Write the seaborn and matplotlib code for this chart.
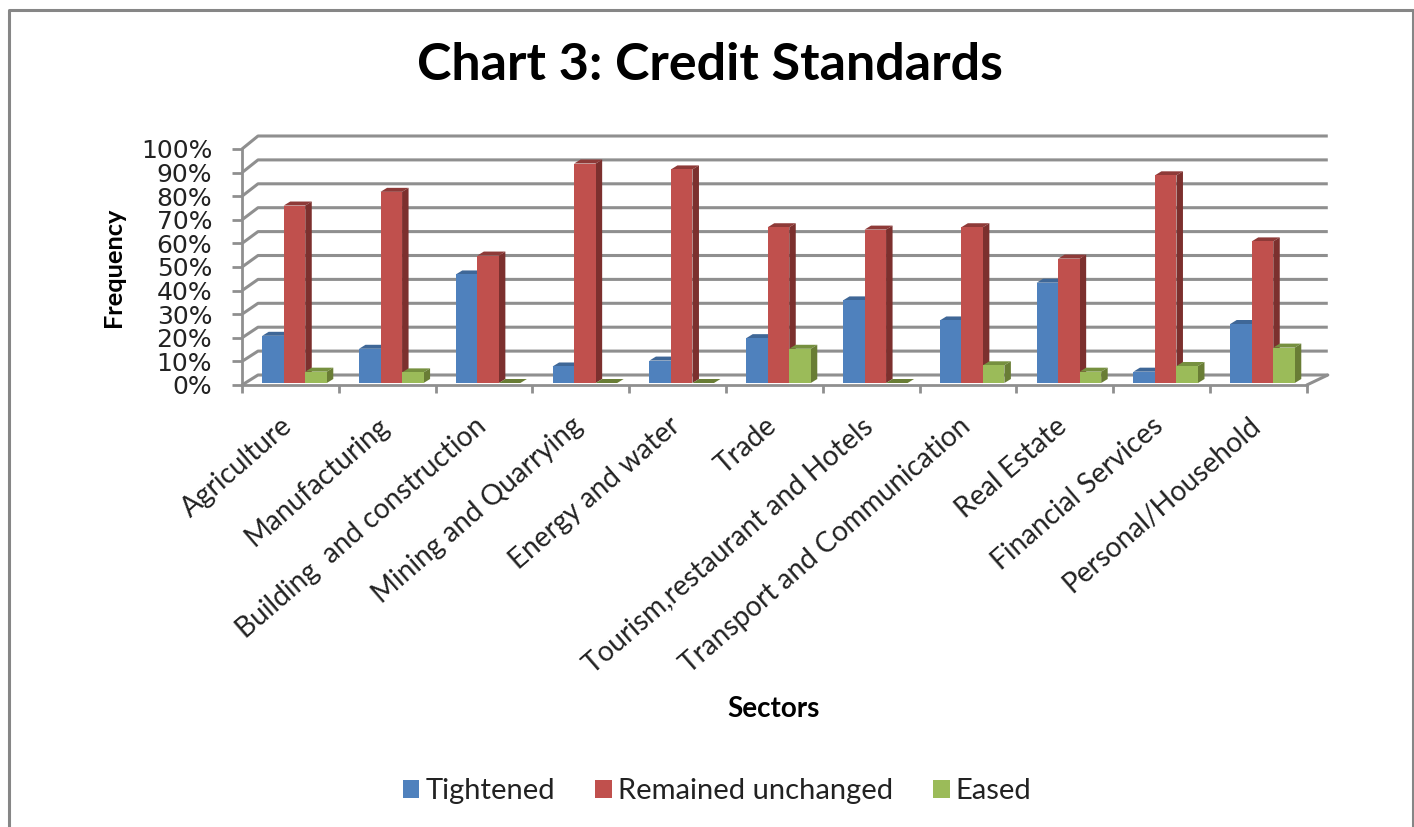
# Chart 3: credit standards by sector, drawn as a fake 3D clustered bar chart

import matplotlib.pyplot as plt
from matplotlib.patches import Polygon
from matplotlib.lines import Line2D
import pandas as pd
import seaborn as sns

sectors = ['Agriculture', 'Manufacturing', 'Building  and construction', 'Mining and Quarrying',
           'Energy and water', 'Trade', 'Tourism,restaurant and Hotels', 'Transport and Communication',
           'Real Estate', 'Financial Services', 'Personal/Household']
tightened = [20, 14.5, 46, 7, 9.5, 19, 35, 26.5, 42.5, 4.8, 25]
unchanged = [75.2, 81, 54, 93, 90.5, 66, 65, 66, 52.7, 88, 60]
eased = [4.8, 4.5, 0, 0, 0, 14.5, 0, 7.5, 4.8, 7.2, 15]
series_names = ['Tightened', 'Remained unchanged', 'Eased']
y_ticks = [0, 10, 20, 30, 40, 50, 60, 70, 80, 90, 100]

front_colors = ['#4f81bd', '#c0504d', '#9bbb59']
side_colors = ['#3b618f', '#7c302e', '#697d35']
top_colors = ['#3f6797', '#8e3a38', '#76903f']
grid_color = '#8f8f8f'

W, H = 1414, 827

def box(left, top, right, bottom):
    # pixel box (from top-left of the image) to figure fractions
    return [left / W, 1 - bottom / H, (right - left) / W, (bottom - top) / H]

data = pd.DataFrame({
    'Sector': sectors * 3,
    'Series': [n for n in series_names for _ in sectors],
    'Value': tightened + unchanged + eased,
})

sns.set_theme(style='white')
plt.rcParams['font.family'] = ['DejaVu Sans']

fig = plt.figure(figsize=(W / 100, H / 100), dpi=100, facecolor='white')

# image border (open at the bottom)
fig.add_artist(Line2D([8.5 / W, 8.5 / W, 1412.5 / W, 1412.5 / W], [0, 1 - 9.5 / H, 1 - 9.5 / H, 0],
                      color='#868686', lw=2.2))

# the frame with walls and ticks
ax_frame = fig.add_axes(box(242, 149, 1306.8, 385))
ax_frame.set_xlim(0, 11)
ax_frame.set_ylim(0, 100)
for side in ['top', 'right']:
    ax_frame.spines[side].set_visible(False)
for side in ['left', 'bottom']:
    ax_frame.spines[side].set_color(grid_color)
    ax_frame.spines[side].set_linewidth(2)

cat_px = 1064.8 / 11
for v in y_ticks:
    back_y = 100 * (385 - (375 - 2.39 * v)) / 236
    ax_frame.plot([0, 16 / cat_px, 11 + 21 / cat_px], [v, back_y, back_y], color=grid_color, lw=2.2,
                  clip_on=False, zorder=1, solid_capstyle='butt')
# right edge of the floor
ax_frame.plot([11, 11 + 21 / cat_px], [0, 100 * 10 / 236], color=grid_color, lw=2.2, clip_on=False, zorder=1)

ax_frame.set_yticks(y_ticks)
ax_frame.set_yticklabels([f'{v}%' for v in y_ticks], fontsize=18, color='#222222')
ax_frame.tick_params(axis='y', length=7.5, width=2, color=grid_color, pad=14, left=True)
ax_frame.set_xticks(range(12))
ax_frame.set_xticklabels([])
ax_frame.tick_params(axis='x', which='major', length=6, width=2, color=grid_color, bottom=True)
ax_frame.set_xticks([i + 0.5 - 10 / cat_px for i in range(11)], minor=True)
ax_frame.set_xticklabels(sectors, minor=True, rotation=41, ha='right', rotation_mode='anchor',
                         fontsize=20.2, family='Lato', color='#222222')
ax_frame.tick_params(axis='x', which='minor', length=0, pad=20)

ax_frame.set_ylabel('Frequency', fontsize=18.3, fontweight='bold', family='Lato', color='black')
ax_frame.yaxis.set_label_coords((125 - 242) / 1064.8, (385 - 267) / 236)
ax_frame.set_xlabel('Sectors', fontsize=20, fontweight='bold', family='Lato', color='black')
ax_frame.xaxis.set_label_coords((773 - 242) / 1064.8, (385 - 696) / 236)

# the bars
ax_bars = fig.add_axes(box(246.1, 147, 1310.9, 383))
ax_bars.patch.set_alpha(0)
sns.barplot(data=data, x='Sector', y='Value', hue='Series', palette=front_colors, hue_order=series_names,
            width=0.667, saturation=1, linewidth=0, edgecolor='none', ax=ax_bars, legend=True)
ax_bars.set_xlim(-0.5, 10.5)
ax_bars.set_ylim(0, 100)

depth_x = 6.5 / cat_px
depth_y = 4 / 2.36
for k, bars in enumerate(ax_bars.containers):
    for bar in bars:
        x0, x1 = bar.get_x(), bar.get_x() + bar.get_width()
        h = bar.get_height()
        z = 3 + k
        bar.set_zorder(z + 0.5)
        ax_bars.add_patch(Polygon([(x0, h), (x0 + depth_x, h + depth_y), (x1 + depth_x, h + depth_y), (x1, h)],
                                  facecolor=side_colors[k] if h == 0 else top_colors[k], edgecolor='none', zorder=z))
        ax_bars.add_patch(Polygon([(x1, 0), (x1 + depth_x, depth_y), (x1 + depth_x, h + depth_y), (x1, h)],
                                  facecolor=side_colors[k], edgecolor='none', zorder=z))
ax_bars.axis('off')

# legend from the seaborn handles
sns.move_legend(ax_bars, 'center', bbox_to_anchor=(717 / W, 1 - 791 / H), bbox_transform=fig.transFigure,
                ncol=3, frameon=False, title=None, handlelength=0.57, handleheight=0.57,
                handletextpad=0.2, columnspacing=1.38, prop={'family': 'Lato', 'size': 21})
for t in ax_bars.get_legend().get_texts():
    t.set_color('#222222')

fig.text(710 / W, 1 - 65 / H, 'Chart 3: Credit Standards', fontsize=37.5, fontweight='bold', family='Lato',
         ha='center', va='center', color='black')

fig.savefig('out.png', dpi=100)
